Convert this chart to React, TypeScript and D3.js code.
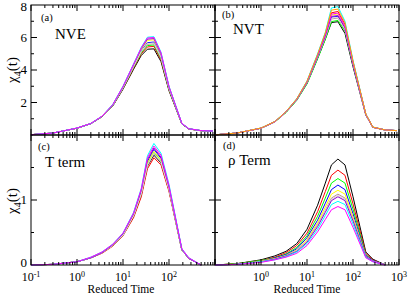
import * as React from "react";
import * as d3 from "d3";

// reduced time grid (log spaced sample points)
const times = [0.1, 0.3, 1, 2, 3.5, 6, 10, 17, 25, 34, 47, 67, 100, 190, 270, 500, 900];
const timesBottom = times.slice(0, 16);

// xmgrace default colour order
const seriesColors = ["#000000", "#ff0000", "#00ff00", "#0000ff", "#ffff00", "#bc8f8f",
  "#dcdcdc", "#9400d3", "#00ffff", "#ff00ff", "#ffa500"];

// (a) NVE
const nveSeries = [
  [0.02, 0.12, 0.42, 0.70, 1.12, 1.78, 2.82, 4.05, 4.90, 5.28, 5.30, 4.52, 2.72, 0.68, 0.37, 0.26, 0.24],
  [0.02, 0.12, 0.42, 0.70, 1.13, 1.80, 2.86, 4.12, 5.00, 5.42, 5.45, 4.62, 2.78, 0.69, 0.37, 0.26, 0.24],
  [0.02, 0.12, 0.42, 0.70, 1.13, 1.81, 2.88, 4.16, 5.06, 5.50, 5.54, 4.70, 2.81, 0.69, 0.38, 0.26, 0.24],
  [0.02, 0.12, 0.42, 0.70, 1.14, 1.83, 2.92, 4.24, 5.18, 5.68, 5.72, 4.84, 2.88, 0.70, 0.38, 0.27, 0.24],
  [0.02, 0.12, 0.42, 0.71, 1.15, 1.85, 2.95, 4.30, 5.27, 5.82, 5.86, 4.95, 2.93, 0.71, 0.38, 0.27, 0.24],
  [0.02, 0.12, 0.42, 0.70, 1.13, 1.82, 2.90, 4.20, 5.12, 5.58, 5.62, 4.76, 2.84, 0.70, 0.38, 0.26, 0.24],
  [0.02, 0.12, 0.42, 0.70, 1.14, 1.82, 2.91, 4.22, 5.15, 5.63, 5.66, 4.80, 2.86, 0.70, 0.38, 0.26, 0.24],
  [0.02, 0.12, 0.42, 0.71, 1.15, 1.86, 2.97, 4.33, 5.32, 5.90, 5.93, 5.00, 2.96, 0.71, 0.38, 0.27, 0.24],
  [0.02, 0.12, 0.43, 0.71, 1.16, 1.88, 3.00, 4.38, 5.40, 6.02, 6.05, 5.10, 3.00, 0.72, 0.39, 0.27, 0.25],
  [0.02, 0.12, 0.43, 0.71, 1.16, 1.87, 2.99, 4.36, 5.37, 5.97, 6.00, 5.06, 2.98, 0.72, 0.39, 0.27, 0.25],
];

// (b) NVT
const nvtSeries = [
  [0.01, 0.12, 0.42, 0.81, 1.40, 2.16, 3.18, 4.72, 5.90, 6.92, 6.97, 6.25, 4.20, 1.22, 0.47, 0.31, 0.27],
  [0.01, 0.12, 0.42, 0.82, 1.43, 2.21, 3.28, 4.92, 6.22, 7.52, 7.60, 6.80, 4.50, 1.28, 0.48, 0.31, 0.27],
  [0.01, 0.12, 0.41, 0.80, 1.38, 2.13, 3.14, 4.68, 5.88, 6.98, 7.05, 6.40, 4.35, 1.27, 0.48, 0.31, 0.27],
  [0.01, 0.12, 0.42, 0.81, 1.41, 2.18, 3.22, 4.80, 6.02, 7.25, 7.30, 6.55, 4.38, 1.25, 0.48, 0.31, 0.27],
  [0.01, 0.12, 0.42, 0.82, 1.42, 2.20, 3.26, 4.88, 6.15, 7.38, 7.45, 6.68, 4.45, 1.27, 0.48, 0.31, 0.27],
  [0.01, 0.12, 0.42, 0.81, 1.41, 2.18, 3.22, 4.80, 6.00, 7.14, 7.20, 6.48, 4.36, 1.25, 0.48, 0.31, 0.27],
  [0.01, 0.12, 0.42, 0.81, 1.41, 2.18, 3.22, 4.80, 6.02, 7.19, 7.25, 6.52, 4.38, 1.25, 0.48, 0.31, 0.27],
  [0.01, 0.12, 0.42, 0.82, 1.42, 2.19, 3.24, 4.84, 6.08, 7.30, 7.35, 6.60, 4.42, 1.26, 0.48, 0.31, 0.27],
  [0.01, 0.12, 0.43, 0.83, 1.45, 2.24, 3.33, 5.00, 6.32, 7.82, 7.90, 7.00, 4.60, 1.30, 0.49, 0.31, 0.27],
  [0.01, 0.12, 0.42, 0.82, 1.43, 2.21, 3.28, 4.90, 6.18, 7.44, 7.50, 6.72, 4.48, 1.28, 0.48, 0.31, 0.27],
  [0.01, 0.12, 0.43, 0.83, 1.44, 2.23, 3.31, 4.96, 6.28, 7.68, 7.75, 6.90, 4.55, 1.29, 0.49, 0.31, 0.27],
];

// (c) T term
const tTermSeries = [
  [0.00, 0.01, 0.05, 0.11, 0.19, 0.30, 0.46, 0.75, 1.08, 1.52, 1.69, 1.57, 1.15, 0.23, 0.10, 0.00],
  [0.00, 0.01, 0.05, 0.11, 0.18, 0.29, 0.45, 0.73, 1.05, 1.48, 1.65, 1.54, 1.13, 0.23, 0.10, 0.00],
  [0.00, 0.01, 0.05, 0.11, 0.19, 0.30, 0.46, 0.76, 1.10, 1.55, 1.73, 1.60, 1.17, 0.23, 0.10, 0.00],
  [0.00, 0.01, 0.05, 0.11, 0.19, 0.31, 0.47, 0.78, 1.13, 1.59, 1.78, 1.64, 1.19, 0.24, 0.10, 0.00],
  [0.00, 0.01, 0.05, 0.11, 0.19, 0.30, 0.47, 0.77, 1.11, 1.57, 1.75, 1.62, 1.18, 0.24, 0.10, 0.00],
  [0.00, 0.01, 0.05, 0.11, 0.19, 0.30, 0.46, 0.76, 1.09, 1.53, 1.71, 1.58, 1.16, 0.23, 0.10, 0.00],
  [0.00, 0.01, 0.05, 0.11, 0.19, 0.30, 0.46, 0.76, 1.10, 1.54, 1.72, 1.59, 1.16, 0.23, 0.10, 0.00],
  [0.00, 0.01, 0.05, 0.11, 0.19, 0.31, 0.48, 0.79, 1.15, 1.62, 1.80, 1.66, 1.20, 0.24, 0.10, 0.00],
  [0.00, 0.01, 0.05, 0.12, 0.20, 0.32, 0.49, 0.81, 1.18, 1.68, 1.87, 1.72, 1.24, 0.25, 0.11, 0.00],
  [0.00, 0.01, 0.05, 0.12, 0.20, 0.32, 0.49, 0.80, 1.17, 1.65, 1.83, 1.69, 1.22, 0.25, 0.11, 0.00],
];

// (d) rho term
const rhoTermSeries = [
  [0.00, 0.02, 0.08, 0.14, 0.21, 0.33, 0.55, 0.92, 1.26, 1.54, 1.63, 1.54, 1.05, 0.20, 0.09, 0.00],
  [0.00, 0.02, 0.07, 0.12, 0.19, 0.30, 0.49, 0.82, 1.13, 1.38, 1.46, 1.38, 0.94, 0.18, 0.08, 0.00],
  [0.00, 0.02, 0.07, 0.11, 0.17, 0.27, 0.45, 0.75, 1.03, 1.26, 1.33, 1.26, 0.86, 0.16, 0.07, 0.00],
  [0.00, 0.01, 0.06, 0.11, 0.16, 0.25, 0.42, 0.69, 0.95, 1.16, 1.23, 1.16, 0.79, 0.15, 0.07, 0.00],
  [0.00, 0.01, 0.06, 0.10, 0.15, 0.23, 0.39, 0.65, 0.89, 1.09, 1.15, 1.09, 0.74, 0.14, 0.06, 0.00],
  [0.00, 0.01, 0.05, 0.09, 0.14, 0.22, 0.37, 0.62, 0.84, 1.03, 1.09, 1.03, 0.70, 0.13, 0.06, 0.00],
  [0.00, 0.01, 0.05, 0.09, 0.14, 0.22, 0.36, 0.60, 0.83, 1.01, 1.07, 1.01, 0.69, 0.13, 0.06, 0.00],
  [0.00, 0.01, 0.05, 0.09, 0.14, 0.21, 0.35, 0.59, 0.81, 0.99, 1.05, 0.99, 0.68, 0.13, 0.06, 0.00],
  [0.00, 0.01, 0.05, 0.08, 0.13, 0.20, 0.33, 0.55, 0.76, 0.93, 0.98, 0.93, 0.63, 0.12, 0.05, 0.00],
  [0.00, 0.01, 0.04, 0.08, 0.12, 0.18, 0.30, 0.51, 0.70, 0.85, 0.90, 0.85, 0.58, 0.11, 0.05, 0.00],
];

const xDecades = [-1, 0, 1, 2, 3];
const font = "Liberation Serif, Times New Roman, DejaVu Serif, serif";

const Panel = ({ x0, x1, y0, y1, yMax, yMajor, yMinor, yLabels, xLabels, ts, series, tag, title, tagPos, titlePos }: any) => {
  const x = d3.scaleLog().domain([0.1, 1000]).range([x0, x1]);
  const y = d3.scaleLinear().domain([0, yMax]).range([y1, y0]);
  const line = d3.line<number>().x((d, i) => x(ts[i])).y(d => y(d));
  const minorX: number[] = [];
  for (let e = -1; e < 3; e++) for (let k = 2; k <= 9; k++) minorX.push(k * Math.pow(10, e));
  const majL = 6, minL = 3;
  return (
    <g>
      {series.map((s: number[], i: number) => (
        <path key={i} d={line(s) || ""} fill="none" stroke={seriesColors[i]} strokeWidth={1} />
      ))}
      <rect x={x0} y={y0} width={x1 - x0} height={y1 - y0} fill="none" stroke="#000" strokeWidth={1} />
      <g stroke="#000" strokeWidth={1}>
        {xDecades.map(e => {
          const px = x(Math.pow(10, e));
          return <g key={"M" + e}>
            <line x1={px} x2={px} y1={y1} y2={y1 - majL} />
            <line x1={px} x2={px} y1={y0} y2={y0 + majL} />
          </g>;
        })}
        {minorX.map(v => (
          <g key={"m" + v}>
            <line x1={x(v)} x2={x(v)} y1={y1} y2={y1 - minL} />
            <line x1={x(v)} x2={x(v)} y1={y0} y2={y0 + minL} />
          </g>
        ))}
        {yMajor.map((v: number) => (
          <g key={"Y" + v}>
            <line x1={x0} x2={x0 + majL} y1={y(v)} y2={y(v)} />
            <line x1={x1} x2={x1 - majL} y1={y(v)} y2={y(v)} />
          </g>
        ))}
        {yMinor.map((v: number) => (
          <g key={"y" + v}>
            <line x1={x0} x2={x0 + minL} y1={y(v)} y2={y(v)} />
            <line x1={x1} x2={x1 - minL} y1={y(v)} y2={y(v)} />
          </g>
        ))}
      </g>
      {yLabels.map((v: number) => (
        <text key={"yl" + v} x={x0 - 4} y={Math.min(Math.max(y(v) + 4, 11), 266.5)} textAnchor="end" fontSize={13} style={{ fontFamily: font }}>{v}</text>
      ))}
      {xLabels.map((e: number) => (
        <text key={"xl" + e} x={x(Math.pow(10, e))} y={280.5} textAnchor="middle" fontSize={12} style={{ fontFamily: font }}>
          10<tspan fontSize={8} dy={-3.8}>{e}</tspan>
        </text>
      ))}
      <text x={tagPos[0]} y={tagPos[1]} fontSize={10.5} style={{ fontFamily: font }}>{tag}</text>
      <text x={titlePos[0]} y={titlePos[1]} fontSize={15} style={{ fontFamily: font }}>{title}</text>
    </g>
  );
};

export default function App() {
  const L = [31, 215], R = [215, 399], T = [5, 135], B = [135, 265];
  return (
    <svg width={409} height={296} style={{ position: "absolute", left: 0, top: 0, background: "#fff" }}>
      <Panel x0={L[0]} x1={L[1]} y0={T[0]} y1={T[1]} yMax={8} yMajor={[2, 4, 6]} yMinor={[1, 3, 5, 7]}
        yLabels={[2, 4, 6, 8]} xLabels={[]} ts={times} series={nveSeries}
        tag="(a)" title="NVE" tagPos={[41, 21]} titlePos={[55, 39]} />
      <Panel x0={R[0]} x1={R[1]} y0={T[0]} y1={T[1]} yMax={8} yMajor={[2, 4, 6]} yMinor={[1, 3, 5, 7]}
        yLabels={[]} xLabels={[]} ts={times} series={nvtSeries}
        tag="(b)" title="NVT" tagPos={[222, 18]} titlePos={[233, 34]} />
      <Panel x0={L[0]} x1={L[1]} y0={B[0]} y1={B[1]} yMax={2} yMajor={[1]} yMinor={[0.5, 1.5]}
        yLabels={[0, 1]} xLabels={[-1, 0, 1, 2]} ts={timesBottom} series={tTermSeries}
        tag="(c)" title="T term" tagPos={[38, 150]} titlePos={[45, 167]} />
      <Panel x0={R[0]} x1={R[1]} y0={B[0]} y1={B[1]} yMax={2} yMajor={[1]} yMinor={[0.5, 1.5]}
        yLabels={[]} xLabels={[0, 1, 2, 3]} ts={timesBottom} series={rhoTermSeries}
        tag="(d)" title="ρ Term" tagPos={[223, 149]} titlePos={[228, 165]} />
      <text transform="translate(17,70) rotate(-90)" textAnchor="middle" fontSize={15} style={{ fontFamily: font }}>
        χ<tspan fontSize={10} dy={4}>4</tspan><tspan dy={-4}>(t)</tspan>
      </text>
      <text transform="translate(17,201) rotate(-90)" textAnchor="middle" fontSize={15} style={{ fontFamily: font }}>
        χ<tspan fontSize={10} dy={4}>4</tspan><tspan dy={-4}>(t)</tspan>
      </text>
      <text x={121} y={293.3} textAnchor="middle" fontSize={11.5} style={{ fontFamily: font }}>Reduced Time</text>
      <text x={307} y={293.3} textAnchor="middle" fontSize={11.5} style={{ fontFamily: font }}>Reduced Time</text>
    </svg>
  );
}
